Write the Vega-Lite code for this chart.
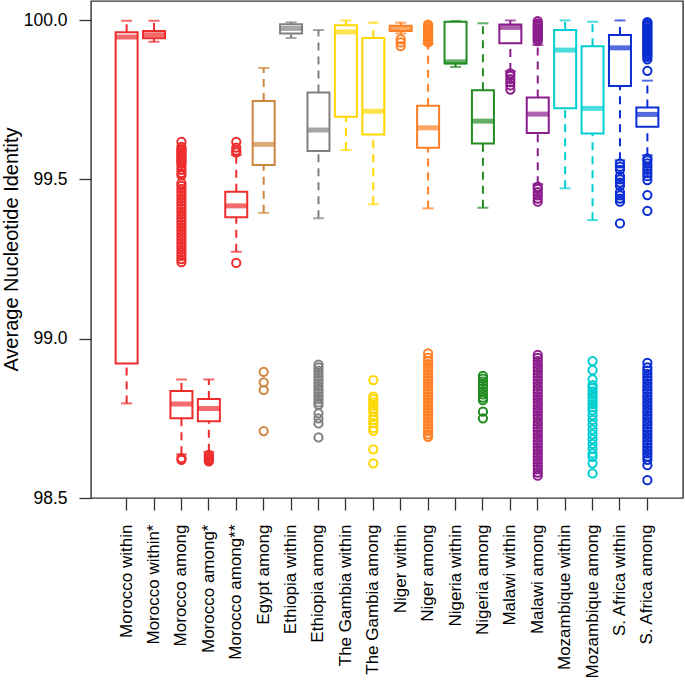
{
  "$schema": "https://vega.github.io/schema/vega-lite/v6.json",
  "autosize": {"type": "none"},
  "padding": {"left": 91, "top": 1, "right": 2, "bottom": 185},
  "width": 592,
  "height": 497,
  "config": {
    "view": {"stroke": "#333333", "strokeWidth": 1.4},
    "font": "Liberation Sans",
    "axis": {"labelFont": "Liberation Sans", "titleFont": "Liberation Sans", "labelColor": "#000000", "titleColor": "#000000", "tickColor": "#333333", "tickWidth": 1.3, "domain": false, "grid": false}
  },
  "datasets": {
    "boxes": [
      {"c": "Morocco within", "g": "Morocco", "lo": 98.797, "q1": 98.922, "med": 99.947, "q3": 99.962, "hi": 99.998},
      {"c": "Morocco within*", "g": "Morocco", "lo": 99.932, "q1": 99.943, "med": 99.954, "q3": 99.966, "hi": 99.998},
      {"c": "Morocco among", "g": "Morocco", "lo": 98.637, "q1": 98.75, "med": 98.795, "q3": 98.836, "hi": 98.872},
      {"c": "Morocco among*", "g": "Morocco", "lo": 98.645, "q1": 98.741, "med": 98.781, "q3": 98.811, "hi": 98.872},
      {"c": "Morocco among**", "g": "Morocco", "lo": 99.273, "q1": 99.381, "med": 99.417, "q3": 99.461, "hi": 99.576},
      {"c": "Egypt among", "g": "Egypt", "lo": 99.395, "q1": 99.545, "med": 99.61, "q3": 99.746, "hi": 99.85},
      {"c": "Ethiopia within", "g": "Ethiopia", "lo": 99.944, "q1": 99.958, "med": 99.974, "q3": 99.987, "hi": 99.993},
      {"c": "Ethiopia among", "g": "Ethiopia", "lo": 99.378, "q1": 99.589, "med": 99.655, "q3": 99.773, "hi": 99.969},
      {"c": "The Gambia within", "g": "The Gambia", "lo": 99.592, "q1": 99.697, "med": 99.963, "q3": 99.984, "hi": 99.999},
      {"c": "The Gambia among", "g": "The Gambia", "lo": 99.422, "q1": 99.641, "med": 99.714, "q3": 99.944, "hi": 99.992},
      {"c": "Niger within", "g": "Niger", "lo": 99.958, "q1": 99.966, "med": 99.975, "q3": 99.982, "hi": 99.992},
      {"c": "Niger among", "g": "Niger", "lo": 99.409, "q1": 99.599, "med": 99.662, "q3": 99.731, "hi": 99.925},
      {"c": "Nigeria within", "g": "Nigeria", "lo": 99.853, "q1": 99.864, "med": 99.869, "q3": 99.995, "hi": 99.997},
      {"c": "Nigeria among", "g": "Nigeria", "lo": 99.411, "q1": 99.613, "med": 99.683, "q3": 99.78, "hi": 99.99},
      {"c": "Malawi within", "g": "Malawi", "lo": 99.84, "q1": 99.927, "med": 99.977, "q3": 99.986, "hi": 99.999},
      {"c": "Malawi among", "g": "Malawi", "lo": 99.485, "q1": 99.646, "med": 99.705, "q3": 99.757, "hi": 99.922},
      {"c": "Mozambique within", "g": "Mozambique", "lo": 99.472, "q1": 99.723, "med": 99.906, "q3": 99.969, "hi": 99.999},
      {"c": "Mozambique among", "g": "Mozambique", "lo": 99.372, "q1": 99.644, "med": 99.723, "q3": 99.918, "hi": 99.995},
      {"c": "S. Africa within", "g": "S. Africa", "lo": 99.56, "q1": 99.793, "med": 99.913, "q3": 99.953, "hi": 99.999},
      {"c": "S. Africa among", "g": "S. Africa", "lo": 99.576, "q1": 99.665, "med": 99.704, "q3": 99.726, "hi": 99.81}
    ],
    "outl": [
      {"c": "Morocco among", "g": "Morocco", "v": 99.618}, {"c": "Morocco among", "g": "Morocco", "v": 99.602}, {"c": "Morocco among", "g": "Morocco", "v": 99.595}, {"c": "Morocco among", "g": "Morocco", "v": 99.59}, {"c": "Morocco among", "g": "Morocco", "v": 99.585}, {"c": "Morocco among", "g": "Morocco", "v": 99.58}, {"c": "Morocco among", "g": "Morocco", "v": 99.575}, {"c": "Morocco among", "g": "Morocco", "v": 99.57}, {"c": "Morocco among", "g": "Morocco", "v": 99.565}, {"c": "Morocco among", "g": "Morocco", "v": 99.56}, {"c": "Morocco among", "g": "Morocco", "v": 99.555}, {"c": "Morocco among", "g": "Morocco", "v": 99.55}, {"c": "Morocco among", "g": "Morocco", "v": 99.54}, {"c": "Morocco among", "g": "Morocco", "v": 99.53}, {"c": "Morocco among", "g": "Morocco", "v": 99.52}, {"c": "Morocco among", "g": "Morocco", "v": 99.513},
      {"c": "Morocco among", "g": "Morocco", "v": 99.488}, {"c": "Morocco among", "g": "Morocco", "v": 99.48}, {"c": "Morocco among", "g": "Morocco", "v": 99.47}, {"c": "Morocco among", "g": "Morocco", "v": 99.46}, {"c": "Morocco among", "g": "Morocco", "v": 99.45}, {"c": "Morocco among", "g": "Morocco", "v": 99.44}, {"c": "Morocco among", "g": "Morocco", "v": 99.43}, {"c": "Morocco among", "g": "Morocco", "v": 99.42}, {"c": "Morocco among", "g": "Morocco", "v": 99.41}, {"c": "Morocco among", "g": "Morocco", "v": 99.4}, {"c": "Morocco among", "g": "Morocco", "v": 99.39}, {"c": "Morocco among", "g": "Morocco", "v": 99.38}, {"c": "Morocco among", "g": "Morocco", "v": 99.37}, {"c": "Morocco among", "g": "Morocco", "v": 99.36}, {"c": "Morocco among", "g": "Morocco", "v": 99.35}, {"c": "Morocco among", "g": "Morocco", "v": 99.34}, {"c": "Morocco among", "g": "Morocco", "v": 99.33}, {"c": "Morocco among", "g": "Morocco", "v": 99.32}, {"c": "Morocco among", "g": "Morocco", "v": 99.31}, {"c": "Morocco among", "g": "Morocco", "v": 99.3}, {"c": "Morocco among", "g": "Morocco", "v": 99.29}, {"c": "Morocco among", "g": "Morocco", "v": 99.28}, {"c": "Morocco among", "g": "Morocco", "v": 99.27}, {"c": "Morocco among", "g": "Morocco", "v": 99.26}, {"c": "Morocco among", "g": "Morocco", "v": 99.25}, {"c": "Morocco among", "g": "Morocco", "v": 99.24},
      {"c": "Morocco among", "g": "Morocco", "v": 98.625}, {"c": "Morocco among", "g": "Morocco", "v": 98.62},
      {"c": "Morocco among*", "g": "Morocco", "v": 98.635}, {"c": "Morocco among*", "g": "Morocco", "v": 98.63}, {"c": "Morocco among*", "g": "Morocco", "v": 98.625}, {"c": "Morocco among*", "g": "Morocco", "v": 98.62}, {"c": "Morocco among*", "g": "Morocco", "v": 98.615},
      {"c": "Morocco among**", "g": "Morocco", "v": 99.618}, {"c": "Morocco among**", "g": "Morocco", "v": 99.6}, {"c": "Morocco among**", "g": "Morocco", "v": 99.59}, {"c": "Morocco among**", "g": "Morocco", "v": 99.585}, {"c": "Morocco among**", "g": "Morocco", "v": 99.238},
      {"c": "Egypt among", "g": "Egypt", "v": 98.896}, {"c": "Egypt among", "g": "Egypt", "v": 98.863}, {"c": "Egypt among", "g": "Egypt", "v": 98.839}, {"c": "Egypt among", "g": "Egypt", "v": 98.71},
      {"c": "Ethiopia among", "g": "Ethiopia", "v": 98.919}, {"c": "Ethiopia among", "g": "Ethiopia", "v": 98.91}, {"c": "Ethiopia among", "g": "Ethiopia", "v": 98.9}, {"c": "Ethiopia among", "g": "Ethiopia", "v": 98.89}, {"c": "Ethiopia among", "g": "Ethiopia", "v": 98.88}, {"c": "Ethiopia among", "g": "Ethiopia", "v": 98.87}, {"c": "Ethiopia among", "g": "Ethiopia", "v": 98.86}, {"c": "Ethiopia among", "g": "Ethiopia", "v": 98.85}, {"c": "Ethiopia among", "g": "Ethiopia", "v": 98.84}, {"c": "Ethiopia among", "g": "Ethiopia", "v": 98.83}, {"c": "Ethiopia among", "g": "Ethiopia", "v": 98.82}, {"c": "Ethiopia among", "g": "Ethiopia", "v": 98.81}, {"c": "Ethiopia among", "g": "Ethiopia", "v": 98.8}, {"c": "Ethiopia among", "g": "Ethiopia", "v": 98.792}, {"c": "Ethiopia among", "g": "Ethiopia", "v": 98.766}, {"c": "Ethiopia among", "g": "Ethiopia", "v": 98.75}, {"c": "Ethiopia among", "g": "Ethiopia", "v": 98.734}, {"c": "Ethiopia among", "g": "Ethiopia", "v": 98.69},
      {"c": "The Gambia among", "g": "The Gambia", "v": 98.87}, {"c": "The Gambia among", "g": "The Gambia", "v": 98.818}, {"c": "The Gambia among", "g": "The Gambia", "v": 98.81}, {"c": "The Gambia among", "g": "The Gambia", "v": 98.8}, {"c": "The Gambia among", "g": "The Gambia", "v": 98.79}, {"c": "The Gambia among", "g": "The Gambia", "v": 98.78}, {"c": "The Gambia among", "g": "The Gambia", "v": 98.771}, {"c": "The Gambia among", "g": "The Gambia", "v": 98.755}, {"c": "The Gambia among", "g": "The Gambia", "v": 98.745}, {"c": "The Gambia among", "g": "The Gambia", "v": 98.735}, {"c": "The Gambia among", "g": "The Gambia", "v": 98.72}, {"c": "The Gambia among", "g": "The Gambia", "v": 98.711}, {"c": "The Gambia among", "g": "The Gambia", "v": 98.653}, {"c": "The Gambia among", "g": "The Gambia", "v": 98.609},
      {"c": "Niger within", "g": "Niger", "v": 99.94}, {"c": "Niger within", "g": "Niger", "v": 99.93}, {"c": "Niger within", "g": "Niger", "v": 99.918},
      {"c": "Niger among", "g": "Niger", "v": 99.986}, {"c": "Niger among", "g": "Niger", "v": 99.98}, {"c": "Niger among", "g": "Niger", "v": 99.975}, {"c": "Niger among", "g": "Niger", "v": 99.97}, {"c": "Niger among", "g": "Niger", "v": 99.965}, {"c": "Niger among", "g": "Niger", "v": 99.96}, {"c": "Niger among", "g": "Niger", "v": 99.955}, {"c": "Niger among", "g": "Niger", "v": 99.95}, {"c": "Niger among", "g": "Niger", "v": 99.945}, {"c": "Niger among", "g": "Niger", "v": 99.94}, {"c": "Niger among", "g": "Niger", "v": 99.935}, {"c": "Niger among", "g": "Niger", "v": 99.93},
      {"c": "Niger among", "g": "Niger", "v": 98.954}, {"c": "Niger among", "g": "Niger", "v": 98.94}, {"c": "Niger among", "g": "Niger", "v": 98.93}, {"c": "Niger among", "g": "Niger", "v": 98.92}, {"c": "Niger among", "g": "Niger", "v": 98.91}, {"c": "Niger among", "g": "Niger", "v": 98.9}, {"c": "Niger among", "g": "Niger", "v": 98.89}, {"c": "Niger among", "g": "Niger", "v": 98.88}, {"c": "Niger among", "g": "Niger", "v": 98.87}, {"c": "Niger among", "g": "Niger", "v": 98.86}, {"c": "Niger among", "g": "Niger", "v": 98.85}, {"c": "Niger among", "g": "Niger", "v": 98.84}, {"c": "Niger among", "g": "Niger", "v": 98.83}, {"c": "Niger among", "g": "Niger", "v": 98.82}, {"c": "Niger among", "g": "Niger", "v": 98.81}, {"c": "Niger among", "g": "Niger", "v": 98.8}, {"c": "Niger among", "g": "Niger", "v": 98.79}, {"c": "Niger among", "g": "Niger", "v": 98.78}, {"c": "Niger among", "g": "Niger", "v": 98.77}, {"c": "Niger among", "g": "Niger", "v": 98.76}, {"c": "Niger among", "g": "Niger", "v": 98.75}, {"c": "Niger among", "g": "Niger", "v": 98.74}, {"c": "Niger among", "g": "Niger", "v": 98.73}, {"c": "Niger among", "g": "Niger", "v": 98.72}, {"c": "Niger among", "g": "Niger", "v": 98.71}, {"c": "Niger among", "g": "Niger", "v": 98.7}, {"c": "Niger among", "g": "Niger", "v": 98.692},
      {"c": "Nigeria among", "g": "Nigeria", "v": 98.883}, {"c": "Nigeria among", "g": "Nigeria", "v": 98.875}, {"c": "Nigeria among", "g": "Nigeria", "v": 98.865}, {"c": "Nigeria among", "g": "Nigeria", "v": 98.855}, {"c": "Nigeria among", "g": "Nigeria", "v": 98.845}, {"c": "Nigeria among", "g": "Nigeria", "v": 98.835}, {"c": "Nigeria among", "g": "Nigeria", "v": 98.825}, {"c": "Nigeria among", "g": "Nigeria", "v": 98.815}, {"c": "Nigeria among", "g": "Nigeria", "v": 98.807}, {"c": "Nigeria among", "g": "Nigeria", "v": 98.771}, {"c": "Nigeria among", "g": "Nigeria", "v": 98.75},
      {"c": "Malawi within", "g": "Malawi", "v": 99.833}, {"c": "Malawi within", "g": "Malawi", "v": 99.825}, {"c": "Malawi within", "g": "Malawi", "v": 99.815}, {"c": "Malawi within", "g": "Malawi", "v": 99.805}, {"c": "Malawi within", "g": "Malawi", "v": 99.795}, {"c": "Malawi within", "g": "Malawi", "v": 99.782},
      {"c": "Malawi among", "g": "Malawi", "v": 99.997}, {"c": "Malawi among", "g": "Malawi", "v": 99.99}, {"c": "Malawi among", "g": "Malawi", "v": 99.985}, {"c": "Malawi among", "g": "Malawi", "v": 99.98}, {"c": "Malawi among", "g": "Malawi", "v": 99.975}, {"c": "Malawi among", "g": "Malawi", "v": 99.97}, {"c": "Malawi among", "g": "Malawi", "v": 99.965}, {"c": "Malawi among", "g": "Malawi", "v": 99.96}, {"c": "Malawi among", "g": "Malawi", "v": 99.955}, {"c": "Malawi among", "g": "Malawi", "v": 99.95}, {"c": "Malawi among", "g": "Malawi", "v": 99.945}, {"c": "Malawi among", "g": "Malawi", "v": 99.94}, {"c": "Malawi among", "g": "Malawi", "v": 99.934},
      {"c": "Malawi among", "g": "Malawi", "v": 99.477}, {"c": "Malawi among", "g": "Malawi", "v": 99.47}, {"c": "Malawi among", "g": "Malawi", "v": 99.46}, {"c": "Malawi among", "g": "Malawi", "v": 99.45}, {"c": "Malawi among", "g": "Malawi", "v": 99.44}, {"c": "Malawi among", "g": "Malawi", "v": 99.43},
      {"c": "Malawi among", "g": "Malawi", "v": 98.949}, {"c": "Malawi among", "g": "Malawi", "v": 98.94}, {"c": "Malawi among", "g": "Malawi", "v": 98.93}, {"c": "Malawi among", "g": "Malawi", "v": 98.92}, {"c": "Malawi among", "g": "Malawi", "v": 98.91}, {"c": "Malawi among", "g": "Malawi", "v": 98.9}, {"c": "Malawi among", "g": "Malawi", "v": 98.89}, {"c": "Malawi among", "g": "Malawi", "v": 98.88}, {"c": "Malawi among", "g": "Malawi", "v": 98.87}, {"c": "Malawi among", "g": "Malawi", "v": 98.86}, {"c": "Malawi among", "g": "Malawi", "v": 98.85}, {"c": "Malawi among", "g": "Malawi", "v": 98.84}, {"c": "Malawi among", "g": "Malawi", "v": 98.83}, {"c": "Malawi among", "g": "Malawi", "v": 98.82}, {"c": "Malawi among", "g": "Malawi", "v": 98.81}, {"c": "Malawi among", "g": "Malawi", "v": 98.8}, {"c": "Malawi among", "g": "Malawi", "v": 98.79}, {"c": "Malawi among", "g": "Malawi", "v": 98.78}, {"c": "Malawi among", "g": "Malawi", "v": 98.77}, {"c": "Malawi among", "g": "Malawi", "v": 98.76}, {"c": "Malawi among", "g": "Malawi", "v": 98.75}, {"c": "Malawi among", "g": "Malawi", "v": 98.74}, {"c": "Malawi among", "g": "Malawi", "v": 98.73}, {"c": "Malawi among", "g": "Malawi", "v": 98.72}, {"c": "Malawi among", "g": "Malawi", "v": 98.71}, {"c": "Malawi among", "g": "Malawi", "v": 98.7}, {"c": "Malawi among", "g": "Malawi", "v": 98.69}, {"c": "Malawi among", "g": "Malawi", "v": 98.68}, {"c": "Malawi among", "g": "Malawi", "v": 98.67}, {"c": "Malawi among", "g": "Malawi", "v": 98.66}, {"c": "Malawi among", "g": "Malawi", "v": 98.65}, {"c": "Malawi among", "g": "Malawi", "v": 98.64}, {"c": "Malawi among", "g": "Malawi", "v": 98.63}, {"c": "Malawi among", "g": "Malawi", "v": 98.62}, {"c": "Malawi among", "g": "Malawi", "v": 98.61}, {"c": "Malawi among", "g": "Malawi", "v": 98.6}, {"c": "Malawi among", "g": "Malawi", "v": 98.59}, {"c": "Malawi among", "g": "Malawi", "v": 98.58}, {"c": "Malawi among", "g": "Malawi", "v": 98.57},
      {"c": "Mozambique among", "g": "Mozambique", "v": 98.93}, {"c": "Mozambique among", "g": "Mozambique", "v": 98.901}, {"c": "Mozambique among", "g": "Mozambique", "v": 98.872}, {"c": "Mozambique among", "g": "Mozambique", "v": 98.854}, {"c": "Mozambique among", "g": "Mozambique", "v": 98.845}, {"c": "Mozambique among", "g": "Mozambique", "v": 98.835}, {"c": "Mozambique among", "g": "Mozambique", "v": 98.825}, {"c": "Mozambique among", "g": "Mozambique", "v": 98.815}, {"c": "Mozambique among", "g": "Mozambique", "v": 98.805}, {"c": "Mozambique among", "g": "Mozambique", "v": 98.795}, {"c": "Mozambique among", "g": "Mozambique", "v": 98.785}, {"c": "Mozambique among", "g": "Mozambique", "v": 98.775}, {"c": "Mozambique among", "g": "Mozambique", "v": 98.76}, {"c": "Mozambique among", "g": "Mozambique", "v": 98.745}, {"c": "Mozambique among", "g": "Mozambique", "v": 98.73}, {"c": "Mozambique among", "g": "Mozambique", "v": 98.715}, {"c": "Mozambique among", "g": "Mozambique", "v": 98.7}, {"c": "Mozambique among", "g": "Mozambique", "v": 98.685}, {"c": "Mozambique among", "g": "Mozambique", "v": 98.67}, {"c": "Mozambique among", "g": "Mozambique", "v": 98.655}, {"c": "Mozambique among", "g": "Mozambique", "v": 98.64}, {"c": "Mozambique among", "g": "Mozambique", "v": 98.629}, {"c": "Mozambique among", "g": "Mozambique", "v": 98.609}, {"c": "Mozambique among", "g": "Mozambique", "v": 98.577},
      {"c": "S. Africa within", "g": "S. Africa", "v": 99.55}, {"c": "S. Africa within", "g": "S. Africa", "v": 99.54}, {"c": "S. Africa within", "g": "S. Africa", "v": 99.53}, {"c": "S. Africa within", "g": "S. Africa", "v": 99.51}, {"c": "S. Africa within", "g": "S. Africa", "v": 99.5}, {"c": "S. Africa within", "g": "S. Africa", "v": 99.49}, {"c": "S. Africa within", "g": "S. Africa", "v": 99.48}, {"c": "S. Africa within", "g": "S. Africa", "v": 99.46}, {"c": "S. Africa within", "g": "S. Africa", "v": 99.45}, {"c": "S. Africa within", "g": "S. Africa", "v": 99.44}, {"c": "S. Africa within", "g": "S. Africa", "v": 99.43}, {"c": "S. Africa within", "g": "S. Africa", "v": 99.362},
      {"c": "S. Africa among", "g": "S. Africa", "v": 99.994}, {"c": "S. Africa among", "g": "S. Africa", "v": 99.99}, {"c": "S. Africa among", "g": "S. Africa", "v": 99.985}, {"c": "S. Africa among", "g": "S. Africa", "v": 99.98}, {"c": "S. Africa among", "g": "S. Africa", "v": 99.975}, {"c": "S. Africa among", "g": "S. Africa", "v": 99.97}, {"c": "S. Africa among", "g": "S. Africa", "v": 99.965}, {"c": "S. Africa among", "g": "S. Africa", "v": 99.96}, {"c": "S. Africa among", "g": "S. Africa", "v": 99.955}, {"c": "S. Africa among", "g": "S. Africa", "v": 99.95}, {"c": "S. Africa among", "g": "S. Africa", "v": 99.945}, {"c": "S. Africa among", "g": "S. Africa", "v": 99.94}, {"c": "S. Africa among", "g": "S. Africa", "v": 99.935}, {"c": "S. Africa among", "g": "S. Africa", "v": 99.93}, {"c": "S. Africa among", "g": "S. Africa", "v": 99.925}, {"c": "S. Africa among", "g": "S. Africa", "v": 99.92}, {"c": "S. Africa among", "g": "S. Africa", "v": 99.915}, {"c": "S. Africa among", "g": "S. Africa", "v": 99.91}, {"c": "S. Africa among", "g": "S. Africa", "v": 99.905}, {"c": "S. Africa among", "g": "S. Africa", "v": 99.9}, {"c": "S. Africa among", "g": "S. Africa", "v": 99.895}, {"c": "S. Africa among", "g": "S. Africa", "v": 99.89}, {"c": "S. Africa among", "g": "S. Africa", "v": 99.885}, {"c": "S. Africa among", "g": "S. Africa", "v": 99.877}, {"c": "S. Africa among", "g": "S. Africa", "v": 99.841},
      {"c": "S. Africa among", "g": "S. Africa", "v": 99.566}, {"c": "S. Africa among", "g": "S. Africa", "v": 99.56}, {"c": "S. Africa among", "g": "S. Africa", "v": 99.55}, {"c": "S. Africa among", "g": "S. Africa", "v": 99.54}, {"c": "S. Africa among", "g": "S. Africa", "v": 99.53}, {"c": "S. Africa among", "g": "S. Africa", "v": 99.52}, {"c": "S. Africa among", "g": "S. Africa", "v": 99.51}, {"c": "S. Africa among", "g": "S. Africa", "v": 99.498}, {"c": "S. Africa among", "g": "S. Africa", "v": 99.451}, {"c": "S. Africa among", "g": "S. Africa", "v": 99.401},
      {"c": "S. Africa among", "g": "S. Africa", "v": 98.924}, {"c": "S. Africa among", "g": "S. Africa", "v": 98.91}, {"c": "S. Africa among", "g": "S. Africa", "v": 98.9}, {"c": "S. Africa among", "g": "S. Africa", "v": 98.89}, {"c": "S. Africa among", "g": "S. Africa", "v": 98.88}, {"c": "S. Africa among", "g": "S. Africa", "v": 98.87}, {"c": "S. Africa among", "g": "S. Africa", "v": 98.86}, {"c": "S. Africa among", "g": "S. Africa", "v": 98.85}, {"c": "S. Africa among", "g": "S. Africa", "v": 98.84}, {"c": "S. Africa among", "g": "S. Africa", "v": 98.83}, {"c": "S. Africa among", "g": "S. Africa", "v": 98.82}, {"c": "S. Africa among", "g": "S. Africa", "v": 98.81}, {"c": "S. Africa among", "g": "S. Africa", "v": 98.8}, {"c": "S. Africa among", "g": "S. Africa", "v": 98.79}, {"c": "S. Africa among", "g": "S. Africa", "v": 98.78}, {"c": "S. Africa among", "g": "S. Africa", "v": 98.77}, {"c": "S. Africa among", "g": "S. Africa", "v": 98.76}, {"c": "S. Africa among", "g": "S. Africa", "v": 98.75}, {"c": "S. Africa among", "g": "S. Africa", "v": 98.74}, {"c": "S. Africa among", "g": "S. Africa", "v": 98.73}, {"c": "S. Africa among", "g": "S. Africa", "v": 98.72}, {"c": "S. Africa among", "g": "S. Africa", "v": 98.71}, {"c": "S. Africa among", "g": "S. Africa", "v": 98.7}, {"c": "S. Africa among", "g": "S. Africa", "v": 98.69}, {"c": "S. Africa among", "g": "S. Africa", "v": 98.68}, {"c": "S. Africa among", "g": "S. Africa", "v": 98.67}, {"c": "S. Africa among", "g": "S. Africa", "v": 98.66}, {"c": "S. Africa among", "g": "S. Africa", "v": 98.65}, {"c": "S. Africa among", "g": "S. Africa", "v": 98.64}, {"c": "S. Africa among", "g": "S. Africa", "v": 98.63}, {"c": "S. Africa among", "g": "S. Africa", "v": 98.62}, {"c": "S. Africa among", "g": "S. Africa", "v": 98.603}, {"c": "S. Africa among", "g": "S. Africa", "v": 98.556}
    ]
  },
  "encoding": {
    "x": {
      "field": "c", "type": "nominal", "title": null,
      "sort": ["Morocco within", "Morocco within*", "Morocco among", "Morocco among*", "Morocco among**", "Egypt among", "Ethiopia within", "Ethiopia among", "The Gambia within", "The Gambia among", "Niger within", "Niger among", "Nigeria within", "Nigeria among", "Malawi within", "Malawi among", "Mozambique within", "Mozambique among", "S. Africa within", "S. Africa among"],
      "scale": {"paddingInner": 0, "paddingOuter": 0.8},
      "axis": {"labelAngle": -90, "labelFontSize": 17, "tickSize": 12, "labelPadding": 14, "labelOverlap": false, "labelLimit": 300}
    }
  },
  "layer": [
    {
      "data": {"name": "boxes"},
      "mark": {"type": "rule", "strokeDash": [8, 6], "strokeWidth": 2},
      "encoding": {
        "y": {"field": "lo", "type": "quantitative", "scale": {"domain": [98.5, 100.06], "nice": false, "zero": false},
          "axis": {"values": [98.5, 99.0, 99.5, 100.0], "format": ".1f", "labelFontSize": 17.5, "tickSize": 12, "labelPadding": 12, "title": "Average Nucleotide Identity", "titleFontSize": 20, "titleFontWeight": "normal", "titleAngle": -90, "titleX": -74, "titleY": 248, "titleAlign": "center", "titleBaseline": "alphabetic"}},
        "y2": {"field": "q1"},
        "color": {"field": "g", "type": "nominal", "legend": null,
          "scale": {"domain": ["Morocco", "Egypt", "Ethiopia", "The Gambia", "Niger", "Nigeria", "Malawi", "Mozambique", "S. Africa"], "range": ["#EE2C2C", "#CD853F", "#808080", "#FFD700", "#FF7F24", "#228B22", "#8B1C8B", "#00CED1", "#0A2ED2"]}}
      }
    },
    {
      "data": {"name": "boxes"},
      "mark": {"type": "rule", "strokeDash": [8, 6], "strokeWidth": 2},
      "encoding": {"y": {"field": "q3", "type": "quantitative"}, "y2": {"field": "hi"}, "color": {"field": "g", "type": "nominal", "legend": null}}
    },
    {
      "data": {"name": "boxes"},
      "mark": {"type": "tick", "size": 11, "thickness": 2},
      "encoding": {"y": {"field": "lo", "type": "quantitative"}, "color": {"field": "g", "type": "nominal", "legend": null}}
    },
    {
      "data": {"name": "boxes"},
      "mark": {"type": "tick", "size": 11, "thickness": 2},
      "encoding": {"y": {"field": "hi", "type": "quantitative"}, "color": {"field": "g", "type": "nominal", "legend": null}}
    },
    {
      "data": {"name": "boxes"},
      "mark": {"type": "bar", "size": 22, "fill": "white", "strokeWidth": 2},
      "encoding": {"y": {"field": "q3", "type": "quantitative"}, "y2": {"field": "q1"},
        "stroke": {"field": "g", "type": "nominal", "legend": null,
          "scale": {"domain": ["Morocco", "Egypt", "Ethiopia", "The Gambia", "Niger", "Nigeria", "Malawi", "Mozambique", "S. Africa"], "range": ["#EE2C2C", "#CD853F", "#808080", "#FFD700", "#FF7F24", "#228B22", "#8B1C8B", "#00CED1", "#0A2ED2"]}}}
    },
    {
      "data": {"name": "boxes"},
      "mark": {"type": "tick", "size": 22, "thickness": 5},
      "encoding": {"y": {"field": "med", "type": "quantitative"}, "color": {"field": "g", "type": "nominal", "legend": null}}
    },
    {
      "data": {"name": "outl"},
      "mark": {"type": "point", "shape": "circle", "filled": false, "size": 68, "strokeWidth": 2, "opacity": 1},
      "encoding": {"y": {"field": "v", "type": "quantitative"}, "color": {"field": "g", "type": "nominal", "legend": null}}
    }
  ]
}
